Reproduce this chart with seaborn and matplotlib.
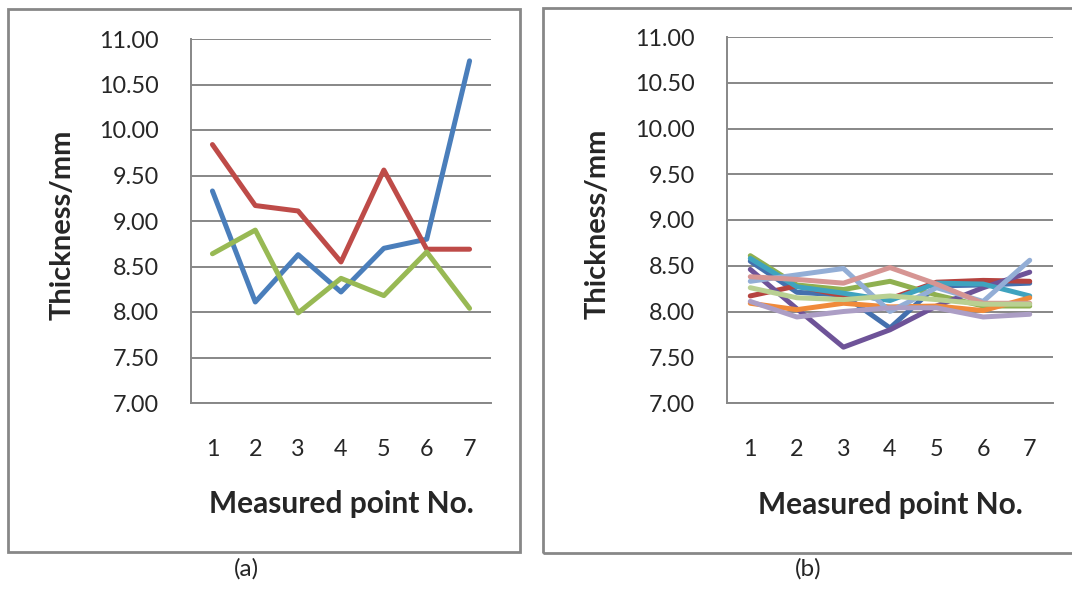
import numpy as np
import pandas as pd
import seaborn as sns
import matplotlib.pyplot as plt
from matplotlib.patches import Rectangle
from matplotlib.ticker import MultipleLocator, FixedLocator, FormatStrFormatter

# measured points along the sample
points = [1, 2, 3, 4, 5, 6, 7]

# panel (a): three samples
a_s1 = [9.33, 8.11, 8.63, 8.22, 8.70, 8.80, 10.76]
a_s2 = [9.84, 9.17, 9.11, 8.55, 9.56, 8.69, 8.69]
a_s3 = [8.64, 8.90, 7.99, 8.37, 8.18, 8.66, 8.04]

# panel (b): ten samples
b_s1 = [8.55, 8.21, 8.18, 7.82, 8.28, 8.29, 8.31]
b_s2 = [8.17, 8.28, 8.17, 8.14, 8.32, 8.34, 8.33]
b_s3 = [8.61, 8.29, 8.24, 8.33, 8.18, 8.06, 8.06]
b_s4 = [8.46, 8.03, 7.61, 7.80, 8.06, 8.26, 8.43]
b_s5 = [8.58, 8.27, 8.20, 8.12, 8.31, 8.30, 8.17]
b_s6 = [8.09, 8.02, 8.09, 8.05, 8.06, 8.01, 8.15]
b_s7 = [8.33, 8.40, 8.47, 8.00, 8.26, 8.11, 8.56]
b_s8 = [8.38, 8.35, 8.31, 8.48, 8.30, 8.09, 8.09]
b_s9 = [8.26, 8.15, 8.13, 8.17, 8.13, 8.08, 8.08]
b_s10 = [8.11, 7.94, 8.00, 8.04, 8.04, 7.94, 7.97]

a_colors = ['#4A7EBB', '#BE4B48', '#98B954']
b_colors = ['#4470AE', '#B5433F', '#8FB050', '#6E5398', '#3FA3BF',
            '#F08A3A', '#93AED6', '#D69593', '#B9D092', '#AC9EC5']

sns.set_style('white')
plt.rcParams['font.family'] = ['Lato', 'DejaVu Sans']
GREY = '#878787'


def long_form(series):
    rows = []
    for i, vals in enumerate(series):
        for p, v in zip(points, vals):
            rows.append({'point': p, 'thickness': v, 'sample': 'S%d' % (i + 1)})
    return pd.DataFrame(rows)


fig = plt.figure(figsize=(10.72, 6.08), dpi=100)
W, H = 1072, 608


def px_axes(left, right, top, bottom):
    return fig.add_axes([left / W, 1 - bottom / H, (right - left) / W, (bottom - top) / H])


ax_a = px_axes(191, 491, 39, 403)
ax_b = px_axes(727, 1053, 37, 403)

panels = [(ax_a, [a_s1, a_s2, a_s3], a_colors, -0.427),
          (ax_b, [b_s1, b_s2, b_s3, b_s4, b_s5, b_s6, b_s7, b_s8, b_s9, b_s10], b_colors, -0.396)]

for ax, series, colors, ylab_x in panels:
    df = long_form(series)
    sns.lineplot(data=df, x='point', y='thickness', hue='sample', palette=colors,
                 linewidth=3.6, ax=ax, legend=False, solid_capstyle='round',
                 solid_joinstyle='round')
    ax.set_xlim(0.5, 7.5)
    ax.set_ylim(7.0, 11.0)
    ax.yaxis.set_major_locator(MultipleLocator(0.5))
    ax.yaxis.set_major_formatter(FormatStrFormatter('%.2f'))
    ax.set_xticks(points)
    ax.xaxis.set_minor_locator(FixedLocator(np.arange(0.5, 7.6, 1.0)))
    ax.grid(axis='y', color=GREY, linewidth=1.4)
    ax.set_axisbelow(True)
    for side in ['top', 'right']:
        ax.spines[side].set_visible(False)
    for side in ['left', 'bottom']:
        ax.spines[side].set_color(GREY)
        ax.spines[side].set_linewidth(1.4)
    ax.tick_params(axis='y', which='major', direction='out', length=6, width=1.4,
                   color=GREY, pad=17, labelsize=16.8)
    ax.tick_params(axis='x', which='major', length=0, pad=26, labelsize=16.8)
    ax.tick_params(axis='x', which='minor', direction='out', length=6, width=1.4,
                   color=GREY)
    ax.set_xlabel('Measured point No.', fontsize=21.5, fontweight='bold')
    ax.set_ylabel('Thickness/mm', fontsize=21, fontweight='bold')
    ax.xaxis.set_label_coords(0.5, -0.278)
    ax.xaxis.label.set_va('center')
    ax.yaxis.set_label_coords(ylab_x, 0.49)
    ax.yaxis.label.set_va('center')

# outer chart frames
fig.add_artist(Rectangle((8 / W, 1 - 552 / H), 512 / W, 543 / H, transform=fig.transFigure,
                         fill=False, edgecolor=GREY, linewidth=2))
fig.add_artist(Rectangle((543 / W, 1 - 553 / H), 540 / W, 545 / H, transform=fig.transFigure,
                         fill=False, edgecolor=GREY, linewidth=2))

fig.text(246 / W, 1 - 569 / H, '(a)', ha='center', va='center', fontsize=17.5)
fig.text(808 / W, 1 - 569 / H, '(b)', ha='center', va='center', fontsize=17.5)

fig.savefig('out.png', dpi=100)
